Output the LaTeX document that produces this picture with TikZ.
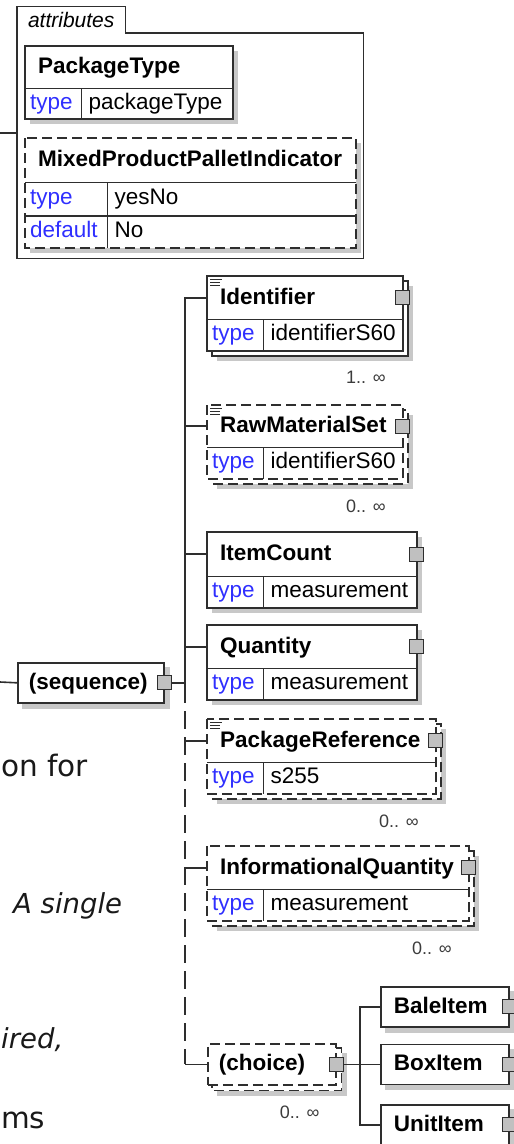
\documentclass[tikz,border=0pt]{standalone}
\usepackage{fontspec}
\setmainfont{Liberation Sans}
\newfontfamily\docsans{DejaVu Sans}
\usetikzlibrary{positioning}
\definecolor{xline}{HTML}{2E2E2E}
\definecolor{xshadow}{HTML}{C8C8C8}
\definecolor{xport}{HTML}{C0C0C0}
\definecolor{xkey}{HTML}{2F2FFF}
\definecolor{xmult}{HTML}{3C3C3C}
\newcommand\elemfont{\bfseries\fontsize{22.5}{26}\selectfont}
\newcommand\cellfont{\fontsize{22.5}{26}\selectfont}
\newcommand\multfont{\fontsize{18}{22}\selectfont}
\newcommand\docnotefont{\docsans\fontsize{29.5}{34}\selectfont}
\newcommand\docslantfont{\docsans\itshape\fontsize{27.5}{34}\selectfont}
\hyphenpenalty=10000
\exhyphenpenalty=10000
\pgfdeclarelayer{back}
\pgfsetlayers{back,main}

\begin{document}
\begin{tikzpicture}[x=1pt,y=-1pt,
  elframe/.style={draw=xline,line width=1.6pt},
  optframe/.style={elframe,dash pattern=on 10pt off 5pt},
  wire/.style={draw=xline,line width=1.6pt},
  optline/.style={dash pattern=on 18pt off 8pt,dash phase=18pt},
  elhead/.style={anchor=north west,inner xsep=13pt,inner ysep=0pt,
    text height=16pt,text depth=3pt,align=left,font=\elemfont},
  elkey/.style={anchor=north west,inner xsep=5pt,inner ysep=0pt,
    text height=16pt,text depth=5pt,align=left,font=\cellfont,text=xkey},
  elval/.style={anchor=north west,inner xsep=7pt,inner ysep=0pt,
    text height=16pt,text depth=5pt,align=left,font=\cellfont},
  elbox/.style={elhead,elframe,fill=white,minimum height=40pt},
  elport/.style={draw=xline,fill=xport,line width=1.2pt,minimum size=14pt,inner sep=0pt},
  docmark/.style={draw=xline,line width=1pt},
  multlabel/.style={anchor=east,font=\multfont,text=xmult,inner sep=0pt},
  shadowfill/.style={fill=xshadow},
  doctext/.style={inner sep=0pt,font=\docnotefont,text=black!90}]
\useasboundingbox (0,0) rectangle (514,1144);
\clip (0,0) rectangle (514,1144);

\node[minimum width=346pt,minimum height=225pt,anchor=north west,inner sep=0pt] (attrs) at (17,33) {};
\node[minimum width=108pt,minimum height=26pt,anchor=south west,inner sep=0pt,
  font=\itshape\fontsize{21}{24}\selectfont] (attrtab) at (attrs.north west) {attributes};
\draw[elframe] (attrs.south west) |- (attrtab.north east) |- (attrs.north east) |- (attrs.south west) -- cycle;
\coordinate (attrin) at (0,133);
\draw[wire] (attrin) -- (attrin -| attrs.west);

\node[elhead,text width=181pt,minimum height=42pt] (ptype) at (25,46) {PackageType};
\node[elkey,text width=46pt,minimum height=30pt] (ptypek) at (ptype.south west) {type};
\node[elval,text width=137pt,minimum height=30pt] (ptypev) at (ptypek.north east) {packageType};
\begin{pgfonlayer}{back}
  \fill[shadowfill] ([shift={(5,5)}]ptype.north west) rectangle ([shift={(5,5)}]ptypev.south east);
  \fill[white] (ptype.north west) rectangle (ptypev.south east);
\end{pgfonlayer}
\draw[elframe] (ptype.north west) rectangle (ptypev.south east);
\draw[elframe] (ptypek.north west) -- (ptypev.north east) (ptypek.north east) -- (ptypek.south east);

\node[elhead,text width=304pt,minimum height=44pt] (mixed) at (25,138) {MixedProductPalletIndicator};
\node[elkey,text width=72pt,minimum height=33pt] (mixedk) at (mixed.south west) {type};
\node[elval,text width=234pt,minimum height=33pt] (mixedv) at (mixedk.north east) {yesNo};
\node[elkey,text width=72pt,minimum height=32pt] (mixeddk) at (mixedk.south west) {default};
\node[elval,text width=234pt,minimum height=32pt] (mixeddv) at (mixeddk.north east) {No};
\begin{pgfonlayer}{back}
  \fill[shadowfill] ([shift={(5,5)}]mixed.north west) rectangle ([shift={(5,5)}]mixeddv.south east);
  \fill[white] (mixed.north west) rectangle (mixeddv.south east);
\end{pgfonlayer}
\draw[optframe] (mixed.north west) rectangle (mixeddv.south east);
\draw[elframe] (mixedk.north west) -- (mixedv.north east) (mixeddk.north west) -- (mixeddv.north east)
  (mixedk.north east) -- (mixeddk.south east);

\node[elbox,text width=124pt,inner xsep=11pt] (seq) at (17,662) {(sequence)};
\node[elport] (seqp) at (seq.east) {};
\begin{pgfonlayer}{back}
  \fill[shadowfill] ([shift={(5,5)}]seq.north west) rectangle ([shift={(5,5)}]seq.south east);
\end{pgfonlayer}
\coordinate (seqin) at (0,682);
\coordinate (split) at (185,703);
\draw[wire] (seqin) -- (seq.west);
\draw[wire] (seqp.east) -- (seqp.east -| split);

\node[elhead,text width=169pt,minimum height=43pt] (ident) at (207,276) {Identifier};
\node[elkey,text width=46pt,minimum height=31pt] (identk) at (ident.south west) {type};
\node[elval,text width=125pt,minimum height=31pt] (identv) at (identk.north east) {identifierS60};
\begin{pgfonlayer}{back}
  \fill[shadowfill] ([shift={(10,10)}]ident.north west) rectangle ([shift={(10,10)}]identv.south east);
  \draw[elframe,fill=white] ([shift={(5,5)}]ident.north west) rectangle ([shift={(5,5)}]identv.south east);
  \fill[white] (ident.north west) rectangle (identv.south east);
\end{pgfonlayer}
\draw[elframe] (ident.north west) rectangle (identv.south east);
\draw[elframe] (identk.north west) -- (identv.north east) (identk.north east) -- (identk.south east);
\draw[docmark] ([shift={(3,3)}]ident.north west) -- +(12,0) ([shift={(3,6)}]ident.north west) -- +(10,0)
  ([shift={(3,9)}]ident.north west) -- +(10,0);
\node[elport] (identp) at (ident.east) {};
\node[multlabel] (identm) at ([shift={(-17,27)}]identv.south east) {1.. ∞};
\draw[wire] (ident.west) -| (split);

\node[elhead,text width=169pt,minimum height=42pt] (rawset) at (207,405) {RawMaterialSet};
\node[elkey,text width=46pt,minimum height=31pt] (rawsetk) at (rawset.south west) {type};
\node[elval,text width=125pt,minimum height=31pt] (rawsetv) at (rawsetk.north east) {identifierS60};
\begin{pgfonlayer}{back}
  \fill[shadowfill] ([shift={(10,10)}]rawset.north west) rectangle ([shift={(10,10)}]rawsetv.south east);
  \draw[optframe,fill=white] ([shift={(5,5)}]rawset.north west) rectangle ([shift={(5,5)}]rawsetv.south east);
  \fill[white] (rawset.north west) rectangle (rawsetv.south east);
\end{pgfonlayer}
\draw[optframe] (rawset.north west) rectangle (rawsetv.south east);
\draw[elframe] (rawsetk.north west) -- (rawsetv.north east) (rawsetk.north east) -- (rawsetk.south east);
\draw[docmark] ([shift={(3,3)}]rawset.north west) -- +(12,0) ([shift={(3,6)}]rawset.north west) -- +(10,0)
  ([shift={(3,9)}]rawset.north west) -- +(10,0);
\node[elport] (rawsetp) at (rawset.east) {};
\node[multlabel] (rawsetm) at ([shift={(-17,27)}]rawsetv.south east) {0.. ∞};
\draw[wire] (rawset.west) -- (rawset.west -| split);

\node[elhead,text width=183pt,minimum height=44pt] (itemcnt) at (207,532) {ItemCount};
\node[elkey,text width=46pt,minimum height=31pt] (itemcntk) at (itemcnt.south west) {type};
\node[elval,text width=139pt,minimum height=31pt] (itemcntv) at (itemcntk.north east) {measurement};
\begin{pgfonlayer}{back}
  \fill[shadowfill] ([shift={(5,5)}]itemcnt.north west) rectangle ([shift={(5,5)}]itemcntv.south east);
  \fill[white] (itemcnt.north west) rectangle (itemcntv.south east);
\end{pgfonlayer}
\draw[elframe] (itemcnt.north west) rectangle (itemcntv.south east);
\draw[elframe] (itemcntk.north west) -- (itemcntv.north east) (itemcntk.north east) -- (itemcntk.south east);
\node[elport] (itemcntp) at (itemcnt.east) {};
\draw[wire] (itemcnt.west) -- (itemcnt.west -| split);

\node[elhead,text width=183pt,minimum height=43pt] (qty) at (207,625) {Quantity};
\node[elkey,text width=46pt,minimum height=31pt] (qtyk) at (qty.south west) {type};
\node[elval,text width=139pt,minimum height=31pt] (qtyv) at (qtyk.north east) {measurement};
\begin{pgfonlayer}{back}
  \fill[shadowfill] ([shift={(5,5)}]qty.north west) rectangle ([shift={(5,5)}]qtyv.south east);
  \fill[white] (qty.north west) rectangle (qtyv.south east);
\end{pgfonlayer}
\draw[elframe] (qty.north west) rectangle (qtyv.south east);
\draw[elframe] (qtyk.north west) -- (qtyv.north east) (qtyk.north east) -- (qtyk.south east);
\node[elport] (qtyp) at (qty.east) {};
\draw[wire] (qty.west) -- (qty.west -| split);

\node[elhead,text width=202pt,minimum height=43pt] (pkgref) at (207,719) {PackageReference};
\node[elkey,text width=46pt,minimum height=31pt] (pkgrefk) at (pkgref.south west) {type};
\node[elval,text width=158pt,minimum height=31pt] (pkgrefv) at (pkgrefk.north east) {s255};
\begin{pgfonlayer}{back}
  \fill[shadowfill] ([shift={(10,10)}]pkgref.north west) rectangle ([shift={(10,10)}]pkgrefv.south east);
  \draw[optframe,fill=white] ([shift={(5,5)}]pkgref.north west) rectangle ([shift={(5,5)}]pkgrefv.south east);
  \fill[white] (pkgref.north west) rectangle (pkgrefv.south east);
\end{pgfonlayer}
\draw[optframe] (pkgref.north west) rectangle (pkgrefv.south east);
\draw[elframe] (pkgrefk.north west) -- (pkgrefv.north east) (pkgrefk.north east) -- (pkgrefk.south east);
\draw[docmark] ([shift={(3,3)}]pkgref.north west) -- +(12,0) ([shift={(3,6)}]pkgref.north west) -- +(10,0)
  ([shift={(3,9)}]pkgref.north west) -- +(10,0);
\node[elport] (pkgrefp) at (pkgref.east) {};
\node[multlabel] (pkgrefm) at ([shift={(-17,27)}]pkgrefv.south east) {0.. ∞};
\draw[wire] (pkgref.west) -- (pkgref.west -| split);

\node[elhead,text width=235pt,minimum height=43pt] (infoqty) at (207,846) {InformationalQuantity};
\node[elkey,text width=46pt,minimum height=31pt] (infoqtyk) at (infoqty.south west) {type};
\node[elval,text width=191pt,minimum height=31pt] (infoqtyv) at (infoqtyk.north east) {measurement};
\begin{pgfonlayer}{back}
  \fill[shadowfill] ([shift={(10,10)}]infoqty.north west) rectangle ([shift={(10,10)}]infoqtyv.south east);
  \draw[optframe,fill=white] ([shift={(5,5)}]infoqty.north west) rectangle ([shift={(5,5)}]infoqtyv.south east);
  \fill[white] (infoqty.north west) rectangle (infoqtyv.south east);
\end{pgfonlayer}
\draw[optframe] (infoqty.north west) rectangle (infoqtyv.south east);
\draw[elframe] (infoqtyk.north west) -- (infoqtyv.north east) (infoqtyk.north east) -- (infoqtyk.south east);
\node[elport] (infoqtyp) at (infoqty.east) {};
\node[multlabel] (infoqtym) at ([shift={(-17,27)}]infoqtyv.south east) {0.. ∞};
\draw[wire] (infoqty.west) -- (infoqty.west -| split);

\node[elbox,optframe,text width=106pt,inner xsep=11pt,minimum height=41pt] (choice) at (207,1043) {(choice)};
\begin{pgfonlayer}{back}
  \fill[shadowfill] ([shift={(10,10)}]choice.north west) rectangle ([shift={(10,10)}]choice.south east);
  \draw[optframe,fill=white] ([shift={(5,5)}]choice.north west) rectangle ([shift={(5,5)}]choice.south east);
\end{pgfonlayer}
\node[elport] (choicep) at (choice.east) {};
\node[multlabel] (choicem) at ([shift={(-17,27)}]choice.south east) {0.. ∞};
\draw[wire,optline] (split) -- (split |- choice.west);
\draw[wire] (split |- choice.west) -- (choice.west);

\node[elbox,text width=102pt] (bale) at (380,986) {BaleItem};
\node[elbox,text width=102pt] (boxit) at (380,1043.5) {BoxItem};
\node[elbox,text width=102pt] (unit) at (380,1104) {UnitItem};
\begin{pgfonlayer}{back}
  \fill[shadowfill] ([shift={(5,5)}]bale.north west) rectangle ([shift={(5,5)}]bale.south east);
  \fill[shadowfill] ([shift={(5,5)}]boxit.north west) rectangle ([shift={(5,5)}]boxit.south east);
  \fill[shadowfill] ([shift={(5,5)}]unit.north west) rectangle ([shift={(5,5)}]unit.south east);
\end{pgfonlayer}
\node[elport] (balep) at (bale.east) {};
\node[elport] (boxitp) at (boxit.east) {};
\node[elport] (unitp) at (unit.east) {};
\coordinate (chj) at ([xshift=16pt]choicep.east);
\draw[wire] (choicep.east) -- (boxit.west);
\draw[wire] (bale.west) -- (bale.west -| chj) -- (unit.west -| chj) -- (unit.west);

\node[doctext,anchor=base east] (noteon) at (88,776) {on for};
\node[doctext,font=\docslantfont,anchor=base west] (notesingle) at (13,913) {A single};
\node[doctext,font=\docslantfont,anchor=base west] (noteired) at (1,1048) {ired,};
\node[doctext,anchor=base west] (notems) at (1,1128) {ms};
\end{tikzpicture}
\end{document}
